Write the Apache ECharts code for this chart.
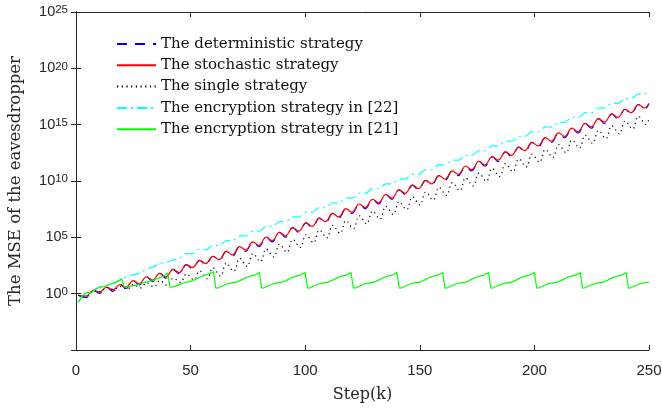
<!DOCTYPE html>
<html><head><meta charset="utf-8">
<script src="https://cdn.jsdelivr.net/npm/echarts/dist/echarts.min.js"></script>
<style>html,body{margin:0;padding:0;background:#fff}#c{width:662px;height:412px}</style>
</head><body><div id="c"></div>
<script>
// Series names (legend order)
const seriesNames = [
  'The deterministic strategy',
  'The stochastic strategy',
  'The single strategy',
  'The encryption strategy in [22]',
  'The encryption strategy in [21]'
];
const xTicks = [0, 50, 100, 150, 200, 250];
const yTickExps = [-5, 0, 5, 10, 15, 20, 25];

// Values are [step k, log10(MSE)]
const stochasticExp = [
[1,-0.15],[4.4,-0.22],[7.6,0.3],[10.2,0.15],[13.4,0.58],[16,0.33],[19.2,0.8],[21.8,0.58],[25,1.15],[27.6,0.9],[30.8,1.5],[33.4,1.2],[36.6,1.8],[39.2,1.5],[42.4,2.15],[45,1.87],[48.2,2.58],[50.8,2.32],[54,2.96],[56.6,2.67],[59.8,3.32],
[62.4,3.02],[65.6,3.76],[68.2,3.44],[71.4,4.18],[74,3.87],[77.2,4.6],[79.8,4.29],[83,5.02],[85.6,4.71],[88.8,5.44],[91.4,5.13],[94.6,5.86],[97.2,5.55],[100.4,6.28],[103,5.97],[106.2,6.7],[108.8,6.39],[112,7.12],[114.6,6.81],[117.8,7.54],[120.4,7.23],[123.6,7.96],[126.2,7.65],[129.4,8.38],[132,8.07],[135.2,8.8],[137.8,8.49],[141,9.22],[143.6,8.91],[146.8,9.64],[149.4,9.33],[152.6,10.06],[155.2,9.75],[158.4,10.48],[161,10.17],[164.2,10.9],[166.8,10.59],[170,11.33],[172.6,11.01],[175.8,11.75],[178.4,11.43],[181.6,12.17],[184.2,11.85],[187.4,12.59],[190,12.28],[193.2,13.01],[195.8,12.7],[199,13.43],[201.6,13.12],[204.8,13.85],[207.4,13.54],[210.6,14.27],[213.2,13.96],[216.4,14.69],[219,14.38],[222.2,15.11],[224.8,14.8],[228,15.53],[230.6,15.22],[233.8,15.95],[236.4,15.64],[239.6,16.37],[242.2,16.06],[245.4,16.79],[248,16.48],[250,16.88]
];
const deterministicExp = [
[1,-0.15],[4.4,-0.34],[7.6,0.3],[10.2,0.03],[13.4,0.58],[16,0.21],[19.2,0.8],[21.8,0.46],[25,1.15],[27.6,0.78],[30.8,1.5],[33.4,1.08],[36.6,1.8],[39.2,1.38],[42.4,2.15],[45,1.75],[48.2,2.58],[50.8,2.2],[54,2.96],[56.6,2.55],[59.8,3.32],
[62.4,2.9],[65.6,3.76],[68.2,3.32],[71.4,4.18],[74,3.75],[77.2,4.6],[79.8,4.17],[83,5.02],[85.6,4.59],[88.8,5.44],[91.4,5.01],[94.6,5.86],[97.2,5.43],[100.4,6.28],[103,5.85],[106.2,6.7],[108.8,6.27],[112,7.12],[114.6,6.69],[117.8,7.54],[120.4,7.11],[123.6,7.96],[126.2,7.53],[129.4,8.38],[132,7.95],[135.2,8.8],[137.8,8.37],[141,9.22],[143.6,8.79],[146.8,9.64],[149.4,9.21],[152.6,10.06],[155.2,9.63],[158.4,10.48],[161,10.05],[164.2,10.9],[166.8,10.47],[170,11.33],[172.6,10.89],[175.8,11.75],[178.4,11.31],[181.6,12.17],[184.2,11.73],[187.4,12.59],[190,12.16],[193.2,13.01],[195.8,12.58],[199,13.43],[201.6,13.0],[204.8,13.85],[207.4,13.42],[210.6,14.27],[213.2,13.84],[216.4,14.69],[219,14.26],[222.2,15.11],[224.8,14.68],[228,15.53],[230.6,15.1],[233.8,15.95],[236.4,15.52],[239.6,16.37],[242.2,15.94],[245.4,16.79],[248,16.36],[250,16.88]
];
const singleExp = [
[1,-0.15],[5,-0.2],[7.6,0.28],[10.8,0.15],[13.4,0.55],[16.6,0.37],[19.2,0.64],[22.4,0.39],[25,0.8],[28.2,0.51],[30.8,0.96],[34,0.6],[36.6,1.16],[39.8,0.74],[42.4,1.37],[45.6,1.0],[48.2,1.74],[51.4,1.23],[54,2.02],[57.2,1.33],[59.8,2.29],
[63,1.57],[65.6,2.71],[68.8,1.99],[71.4,3.13],[74.6,2.42],[77.2,3.55],[80.4,2.84],[83,3.97],[86.2,3.26],[88.8,4.39],[92,3.68],[94.6,4.81],[97.8,4.1],[100.4,5.23],[103.6,4.52],[106.2,5.65],[109.4,4.94],[112,6.07],[115.2,5.36],[117.8,6.49],[121,5.78],[123.6,6.91],[126.8,6.2],[129.4,7.33],[132.6,6.62],[135.2,7.75],[138.4,7.04],[141,8.17],[144.2,7.46],[146.8,8.59],[150,7.88],[152.6,9.01],[155.8,8.3],[158.4,9.43],[161.6,8.72],[164.2,9.85],[167.4,9.14],[170,10.28],[173.2,9.56],[175.8,10.7],[179,9.98],[181.6,11.12],[184.8,10.4],[187.4,11.54],[190.6,10.83],[193.2,11.96],[196.4,11.25],[199,12.38],[202.2,11.67],[204.8,12.8],[208,12.09],[210.6,13.22],[213.8,12.51],[216.4,13.64],[219.6,12.93],[222.2,14.06],[225.4,13.35],[228,14.48],[231.2,13.77],[233.8,14.9],[237,14.19],[239.6,15.32],[242.8,14.61],[245.4,15.74],[248.6,15.03],[250,15.5]
];
const enc22Exp = [
[1,-0.75],[2,-0.45],[3,-0.15],[4,0.05],[5,0.1],[6,0.08],[7,0.15],[8,0.3],[9,0.45],[10,0.55],[11,0.6],[12,0.62],[13,0.68],[14,0.78],[15,0.85],[16,0.9],[17,0.98],[18,1.08],[19,1.2],[20,1.33],
[21.8,1.45],[25,1.7],[27.6,1.8],[30.8,2.2],[33.4,2.35],[36.6,2.7],[39.2,2.75],[42.4,3.0],[45,3.1],[48.2,3.55],[50.8,3.55],[54,3.95],[56.6,3.9],[59.8,4.3],
[62.4,4.27],[65.6,4.71],[68.2,4.69],[71.4,5.13],[74,5.12],[77.2,5.55],[79.8,5.54],[83,5.97],[85.6,5.96],[88.8,6.39],[91.4,6.38],[94.6,6.81],[97.2,6.8],[100.4,7.23],[103,7.22],[106.2,7.65],[108.8,7.64],[112,8.07],[114.6,8.06],[117.8,8.49],[120.4,8.48],[123.6,8.91],[126.2,8.9],[129.4,9.33],[132,9.32],[135.2,9.75],[137.8,9.74],[141,10.17],[143.6,10.16],[146.8,10.59],[149.4,10.58],[152.6,11.01],[155.2,11.0],[158.4,11.43],[161,11.42],[164.2,11.85],[166.8,11.84],[170,12.28],[172.6,12.26],[175.8,12.7],[178.4,12.68],[181.6,13.12],[184.2,13.1],[187.4,13.54],[190,13.53],[193.2,13.96],[195.8,13.95],[199,14.38],[201.6,14.37],[204.8,14.8],[207.4,14.79],[210.6,15.22],[213.2,15.21],[216.4,15.64],[219,15.63],[222.2,16.06],[224.8,16.05],[228,16.48],[230.6,16.47],[233.8,16.9],[236.4,16.89],[239.6,17.32],[242.2,17.31],[245.4,17.74],[248,17.73],[250,17.85]
];
const enc21Exp = [
[1,-0.75],[2,-0.45],[3,-0.15],[4,0.05],[5,0.1],[6,0.08],[7,0.15],[8,0.3],[9,0.45],[10,0.55],[11,0.6],[12,0.62],[13,0.68],[14,0.78],[15,0.85],[16,0.9],[17,0.98],[18,1.08],[19,1.2],[20,1.33],
[21,0.6],[22,0.58],[23,0.62],[24,0.68],[25,0.72],[26,0.76],[27,0.8],[28,0.88],[29,0.95],[30,1.0],[31,1.05],[32,1.1],[33,1.15],[34,1.2],[35,1.3],[36,1.38],[37,1.45],[38,1.55],[39,1.68],[40,1.83],
[41,0.55],[43,0.65],[45,0.8],[47,0.95],[49,1.05],[51,1.15],[53,1.35],[55,1.55],[57,1.7],[59,1.85],[60,1.95],
[61,0.5],[62,0.52],[64,0.7],[66,0.88],[68,0.95],[70,1.02],[72,1.2],[74,1.42],[76,1.55],[78,1.65],[80,1.87],
[81,0.5],[82,0.52],[84,0.7],[86,0.88],[88,0.95],[90,1.02],[92,1.2],[94,1.42],[96,1.55],[98,1.65],[100,1.87],
[101,0.5],[102,0.52],[104,0.7],[106,0.88],[108,0.95],[110,1.02],[112,1.2],[114,1.42],[116,1.55],[118,1.65],[120,1.87],
[121,0.5],[122,0.52],[124,0.7],[126,0.88],[128,0.95],[130,1.02],[132,1.2],[134,1.42],[136,1.55],[138,1.65],[140,1.87],
[141,0.5],[142,0.52],[144,0.7],[146,0.88],[148,0.95],[150,1.02],[152,1.2],[154,1.42],[156,1.55],[158,1.65],[160,1.87],
[161,0.5],[162,0.52],[164,0.7],[166,0.88],[168,0.95],[170,1.02],[172,1.2],[174,1.42],[176,1.55],[178,1.65],[180,1.87],
[181,0.5],[182,0.52],[184,0.7],[186,0.88],[188,0.95],[190,1.02],[192,1.2],[194,1.42],[196,1.55],[198,1.65],[200,1.87],
[201,0.5],[202,0.52],[204,0.7],[206,0.88],[208,0.95],[210,1.02],[212,1.2],[214,1.42],[216,1.55],[218,1.65],[220,1.87],
[221,0.5],[222,0.52],[224,0.7],[226,0.88],[228,0.95],[230,1.02],[232,1.2],[234,1.42],[236,1.55],[238,1.65],[240,1.87],
[241,0.5],[242,0.52],[244,0.7],[246,0.88],[248,0.95],[250,1.02]
];

const toPts = arr => arr.map(p => [p[0], Math.pow(10, p[1])]);
const AX = '#262626';
const serif = "'DejaVu Serif', 'Liberation Serif', serif";
const sans = "'Liberation Sans', Arial, sans-serif";

function mk(name, data, color, type, smooth) {
  return {
    name, type: 'line', data: toPts(data), symbol: 'none', showSymbol: false,
    smooth: smooth, animation: false,
    lineStyle: { color, width: 1.2, type },
    itemStyle: { color }
  };
}

const chart = echarts.init(document.getElementById('c'), null, { renderer: 'canvas' });
const yMin = Math.pow(10, yTickExps[0]), yMax = Math.pow(10, yTickExps[yTickExps.length - 1]);
const xMin = xTicks[0], xMax = xTicks[xTicks.length - 1];
const yLabel = v => '{b|10}{s|' + Math.round(Math.log10(v)) + '}';

chart.setOption({
  backgroundColor: '#fff',
  animation: false,
  grid: { left: 76, right: 13, top: 12, bottom: 62, containLabel: false, outerBoundsMode: 'none' },
  legend: {
    orient: 'vertical', left: 116, top: 36, padding: 0, itemWidth: 39, itemHeight: 14, itemGap: 5.3,
    data: seriesNames,
    itemStyle: { opacity: 0 },
    textStyle: { fontFamily: serif, fontSize: 15, color: '#111', lineHeight: 16 },
    backgroundColor: 'transparent', borderWidth: 0
  },
  xAxis: [{
    type: 'value', min: xMin, max: xMax, interval: 50,
    name: 'Step(k)', nameLocation: 'middle', nameGap: 37,
    nameTextStyle: { fontFamily: serif, fontSize: 16, color: AX },
    axisLine: { show: true, lineStyle: { color: AX, width: 1 } },
    axisTick: { show: true, inside: true, length: 5, lineStyle: { color: AX } },
    axisLabel: { fontFamily: sans, fontSize: 15, color: AX, margin: 13 },
    splitLine: { show: false }
  }, {
    type: 'value', position: 'top', min: xMin, max: xMax, interval: 50,
    axisLine: { show: true, onZero: false, lineStyle: { color: AX, width: 1 } },
    axisTick: { show: true, inside: true, length: 5, lineStyle: { color: AX } },
    axisLabel: { show: false }, splitLine: { show: false }
  }],
  yAxis: [{
    type: 'log', logBase: 10, min: yMin, max: yMax, interval: 5,
    name: 'The MSE of the eavesdropper', nameLocation: 'middle', nameGap: 52,
    nameTextStyle: { fontFamily: serif, fontSize: 16.5, color: AX },
    axisLine: { show: true, lineStyle: { color: AX, width: 1 } },
    axisTick: { show: true, inside: true, length: 5, lineStyle: { color: AX } },
    axisLabel: {
      showMinLabel: false, margin: 8, formatter: yLabel,
      rich: {
        b: { fontFamily: sans, fontSize: 14.5, color: AX, lineHeight: 16, verticalAlign: 'middle' },
        s: { fontFamily: sans, fontSize: 11.5, color: AX, lineHeight: 12, padding: [0, 0, 14, 0], verticalAlign: 'top' }
      }
    },
    splitLine: { show: false }, minorTick: { show: false }
  }, {
    type: 'log', logBase: 10, min: yMin, max: yMax, interval: 5, position: 'right',
    axisLine: { show: true, lineStyle: { color: AX, width: 1 } },
    axisTick: { show: true, inside: true, length: 5, lineStyle: { color: AX } },
    axisLabel: { show: false }, splitLine: { show: false }
  }],
  series: [
    mk(seriesNames[0], deterministicExp, '#0000ff', [10, 8], 0.4),
    mk(seriesNames[1], stochasticExp, '#ff0000', 'solid', 0.4),
    mk(seriesNames[2], singleExp, '#000000', [1.2, 3.5], 0.4),
    mk(seriesNames[3], enc22Exp, '#00ffff', [10, 4, 2, 4], 0.3),
    mk(seriesNames[4], enc21Exp, '#00ff00', 'solid', false)
  ]
});
</script>
</body></html>
